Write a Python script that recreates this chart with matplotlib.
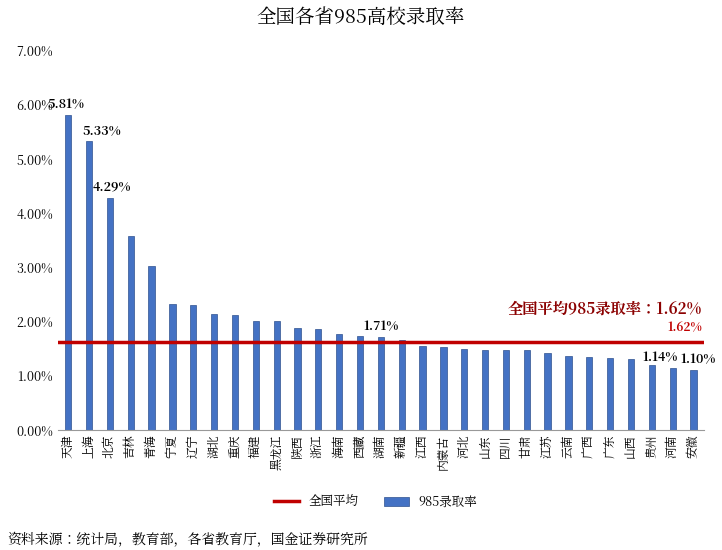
import matplotlib
matplotlib.use("Agg")
import matplotlib.pyplot as plt
from matplotlib import font_manager as fm
from matplotlib.ticker import FuncFormatter

cjk = None
for f in fm.fontManager.ttflist:
    if "CJK" in f.name and ("SC" in f.name or cjk is None):
        cjk = f.name
        if "SC" in f.name:
            break
if cjk is None:
    for path in fm.findSystemFonts():
        if "CJK" in path:
            fm.fontManager.addfont(path)
            cjk = fm.FontProperties(fname=path).get_name()
            break
plt.rcParams["font.family"] = [cjk or "Noto Sans CJK SC", "DejaVu Sans"]

provinces = ["天津","上海","北京","吉林","青海","宁夏","辽宁","湖北","重庆","福建","黑龙江","陕西","浙江","海南","西藏","湖南","新疆","江西","内蒙古","河北","山东","四川","甘肃","江苏","云南","广西","广东","山西","贵州","河南","安徽"]
rates = [5.81,5.33,4.29,3.58,3.02,2.32,2.30,2.14,2.13,2.02,2.02,1.88,1.87,1.77,1.73,1.71,1.67,1.56,1.54,1.49,1.48,1.47,1.47,1.42,1.36,1.34,1.33,1.31,1.20,1.14,1.10]
national_avg = 1.62
labeled = {"天津":5.81,"上海":5.33,"北京":4.29,"湖南":1.71,"河南":1.14,"安徽":1.10}
label_offsets = {"天津":-0.1,"上海":0.6,"北京":0.1,"湖南":0.0,"河南":-0.6,"安徽":0.2}

fig = plt.figure(figsize=(7.22,5.5), dpi=100)
ax = fig.add_axes([0.08,0.218,0.895,0.69])
x = range(len(provinces))
ax.bar(x, rates, width=0.3, color="#4472C4", edgecolor="#2F528F", linewidth=0.5, label="985录取率")
ax.plot([-0.5,len(provinces)-0.5],[national_avg]*2, color="#C00000", lw=2.5, label="全国平均")
ax.set_xlim(-0.5,len(provinces)-0.5)
ax.set_ylim(0,7)
ax.set_yticks(list(range(8)))
ax.yaxis.set_major_formatter(FuncFormatter(lambda v,p: f"{v:.2f}%"))
ax.set_xticks(list(x))
ax.set_xticklabels(provinces, fontsize=8.5, rotation=90)
ax.tick_params(axis="x", length=0)
ax.tick_params(axis="y", length=0, labelsize=9)
for s in ["top","right","left"]:
    ax.spines[s].set_visible(False)
ax.spines["bottom"].set_color("#999999")
for i,p in enumerate(provinces):
    if p in labeled:
        v = labeled[p]
        ax.text(i+label_offsets[p], v+0.08, f"{v:.2f}%", ha="center", va="bottom", fontsize=9, fontweight="bold")
ax.text(len(provinces)-0.6, national_avg+0.2, f"{national_avg:.2f}%", color="#C00000", ha="right", fontsize=8.5, fontweight="bold")
ax.text(len(provinces)-0.6, national_avg+0.52, f"全国平均985录取率：{national_avg:.2f}%", color="#8B0000", ha="right", fontsize=11, fontweight="bold")
fig.suptitle("全国各省985高校录取率", y=0.985, fontsize=14)
h, l = ax.get_legend_handles_labels()
fig.legend(h, l, loc="lower center", bbox_to_anchor=(0.52,0.055), ncol=2, frameon=False, fontsize=9)
fig.text(0.01,0.01,"资料来源：统计局，教育部，各省教育厅，国金证券研究所", fontsize=10)
fig.savefig("out.png", dpi=100)
